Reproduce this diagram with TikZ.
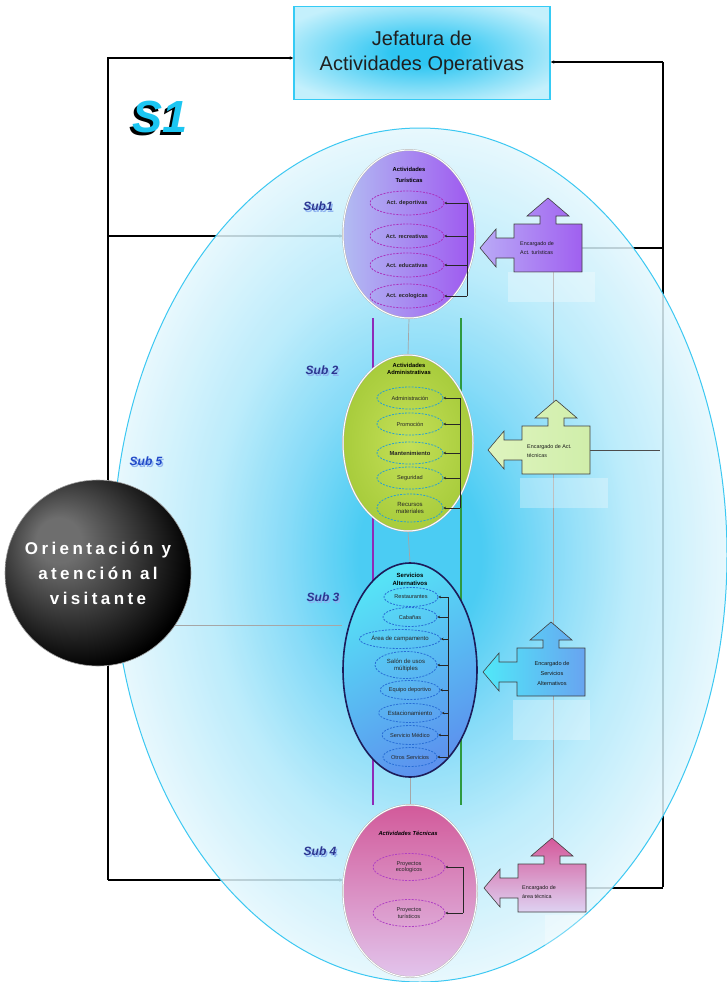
\documentclass[tikz,border=0pt]{standalone}
\usepackage{fontspec}
\setmainfont{Liberation Sans}
\newfontfamily\spacedsans[LetterSpace=20]{Liberation Sans}
\usetikzlibrary{shapes.geometric,arrows.meta}
\pgfdeclarelayer{paper}
\pgfdeclarelayer{wires}
\pgfdeclarelayer{halo}
\pgfdeclarelayer{links}
\pgfsetlayers{paper,wires,halo,links,main}
\definecolor{haloA}{HTML}{2CC4F2}
\definecolor{haloM}{HTML}{74D6F7}
\definecolor{haloB}{HTML}{B0E9FB}
\definecolor{haloC}{HTML}{E4F7FD}
\definecolor{haloEdge}{HTML}{3CC8F2}
\definecolor{boxIn}{HTML}{2EC6F2}
\definecolor{boxOut}{HTML}{C4F0FC}
\definecolor{boxEdge}{HTML}{35CBF5}
\definecolor{orbA}{HTML}{6E6E6E}
\definecolor{orbB}{HTML}{5A5A5A}
\definecolor{linkP}{HTML}{8E2AB8}
\definecolor{linkG}{HTML}{2E9A40}
\definecolor{subBlue}{HTML}{2B3590}
\definecolor{subFive}{HTML}{2048C8}
\definecolor{subShadow}{HTML}{8FB4F0}
\definecolor{sOneCyan}{HTML}{1CC6F2}
\pgfdeclareradialshading{haloshade}{\pgfpoint{0bp}{0bp}}{color(0bp)=(haloA); color(5bp)=(haloA); color(11bp)=(haloM); color(17bp)=(haloB); color(25bp)=(haloC); color(50bp)=(haloC)}
\pgfdeclareradialshading{orbshade}{\pgfpoint{-12bp}{10bp}}{color(0bp)=(orbA); color(6bp)=(orbA); color(30bp)=(black); color(44bp)=(black); color(50bp)=(orbB)}
\pgfdeclareradialshading{boxshade}{\pgfpoint{0bp}{0bp}}{color(0bp)=(boxIn); color(6bp)=(boxIn); color(30bp)=(boxOut); color(50bp)=(boxOut)}
\newcommand\calloutbox[4]{%
  \shade[#4, draw=black!75, line width=0.6pt]
    ({#2-34},{#3-24}) -- ({#2-8},{#3-24}) -- ({#2-8},{#3-32}) -- ({#2-21},{#3-32})
    -- ({#2},{#3-50}) -- ({#2+21},{#3-32}) -- ({#2+8},{#3-32}) -- ({#2+8},{#3-24})
    -- ({#2+34},{#3-24}) -- ({#2+34},{#3+24}) -- ({#2-34},{#3+24}) -- ({#2-34},{#3+10})
    -- ({#2-52},{#3+10}) -- ({#2-52},{#3+19}) -- ({#2-68},{#3}) -- ({#2-52},{#3-19})
    -- ({#2-52},{#3-10}) -- ({#2-34},{#3-10}) -- cycle;
  \coordinate (#1-top) at (#2,{#3-50});
  \coordinate (#1-bot) at (#2,{#3+24});
  \coordinate (#1-right) at ({#2+34},#3);
}
\newcommand\shadowtext[3]{\makebox[0pt][l]{\hspace*{1.5pt}\raisebox{-1.5pt}{\textcolor{#2}{#1}}}\textcolor{#3}{#1}}
\begin{document}
\begin{tikzpicture}[x=1pt,y=-1pt,
  wire/.style={draw=black, line width=1.2pt},
  thickwire/.style={draw=black, line width=2pt},
  link/.style={draw=gray!70, line width=0.7pt},
  tip/.style={-{Stealth[length=3.5pt,width=3.5pt]}},
  tick/.style={draw=black!85, line width=0.6pt, -{Stealth[length=2.6pt,width=2.6pt]}},
  subell/.style={ellipse, draw=gray!60, double=white, double distance=1pt, inner sep=0pt},
  item/.style={ellipse, dashed, dash pattern=on 2pt off 1.3pt, line width=0.8pt, inner sep=0pt, align=center, font=\fontsize{5.6}{6.4}\selectfont, text=black!85},
  title/.style={align=center, font=\fontsize{5.8}{7}\selectfont\bfseries, text=black},
  calltext/.style={align=left, font=\fontsize{5.4}{9}\selectfont, text=black!90, inner sep=0pt},
  sublabel/.style={font=\fontsize{12}{12}\selectfont\bfseries\itshape, inner sep=0pt},
  reflect/.style={fill=white, fill opacity=0.3, draw=none}
]
\useasboundingbox (0,0) rectangle (727,982);
\begin{pgfonlayer}{paper}
  \fill[white] (0,0) rectangle (727,982);
\end{pgfonlayer}

% ---------- top box
\node[draw=boxEdge, line width=1.6pt, shading=boxshade, minimum width=256pt, minimum height=93pt,
      align=center, font=\fontsize{20}{25}\selectfont, text=black!88] (top) at (422,53)
      {Jefatura de\\Actividades Operativas};

% ---------- S1 label (cyan with black shadow)
\node[font=\fontsize{45}{45}\selectfont\bfseries\itshape, inner sep=0pt] (sone) at (160,119)
  {\makebox[0pt][l]{\hspace*{-3pt}\raisebox{-3pt}{\textcolor{black}{S1}}}\textcolor{sOneCyan}{S1}};

% ---------- big halo ellipse
\begin{pgfonlayer}{halo}
  \shade[shading=haloshade, fill opacity=0.85] (420,555) ellipse [x radius=307, y radius=427];
  \draw[haloEdge, line width=1pt] (420,555) ellipse [x radius=307, y radius=427];
\end{pgfonlayer}

% ---------- sub ellipses
\node[subell, left color={rgb,255:red,178;green,188;blue,242}, right color={rgb,255:red,158;green,86;blue,240},
      minimum width=132pt, minimum height=168pt] (sub1) at (409,234) {};
\node[subell, inner color={rgb,255:red,196;green,224;blue,88}, outer color={rgb,255:red,168;green,204;blue,60},
      minimum width=130pt, minimum height=176pt] (sub2) at (408,443) {};
\node[ellipse, draw={rgb,255:red,28;green,28;blue,90}, line width=1.6pt, inner sep=0pt,
      top color={rgb,255:red,86;green,226;blue,246}, bottom color={rgb,255:red,92;green,146;blue,238}, shading angle=30,
      minimum width=134pt, minimum height=214pt] (sub3) at (410,670) {};
\node[subell, top color={rgb,255:red,210;green,90;blue,154}, middle color={rgb,255:red,222;green,182;blue,226},
      bottom color={rgb,255:red,226;green,196;blue,236},
      minimum width=134pt, minimum height=172pt] (sub4) at (410,891) {};

% ---------- sub 1 content
\node[title] (t1) at (409,175) {Actividades\\[4pt]Turísticas};
\tikzset{itemA/.style={item, draw={rgb,255:red,170;green,50;blue,190}, minimum width=74pt, minimum height=24pt, font=\fontsize{5.6}{6.4}\selectfont\bfseries}}
\node[itemA] (a1) at (407,203) {Act. deportivas};
\node[itemA] (a2) at (407,236) {Act. recreativas};
\node[itemA] (a3) at (407,265) {Act. educativas};
\node[itemA] (a4) at (407,296) {Act. ecologicas};
\coordinate (k1) at (467,0);
\draw[draw=black!85, line width=0.6pt] (k1 |- a1.east) -- (k1 |- a4.east);
\foreach \n in {a1,a2,a3,a4} { \draw[tick] (k1 |- \n.east) -- (\n.east); }

% ---------- sub 2 content
\node[title] (t2) at (409,369) {Actividades\\Administrativas};
\tikzset{itemB/.style={item, draw={rgb,255:red,40;green,160;blue,210}, minimum width=66pt, minimum height=22pt}}
\node[itemB] (b1) at (410,398) {Administración};
\node[itemB] (b2) at (410,424) {Promoción};
\node[itemB, font=\fontsize{5.8}{6.4}\selectfont\bfseries] (b3) at (410,453) {Mantenimiento};
\node[itemB] (b4) at (410,478) {Seguridad};
\node[itemB, minimum height=28pt, font=\fontsize{6}{7}\selectfont] (b5) at (410,508) {Recursos\\materiales};
\coordinate (k2) at (460,0);
\draw[draw=black!85, line width=0.6pt] (k2 |- b1.east) -- (k2 |- b5.east);
\foreach \n in {b1,b2,b3,b4,b5} { \draw[tick] (k2 |- \n.east) -- (\n.east); }

% ---------- sub 3 content
\node[title, font=\fontsize{6}{8}\selectfont\bfseries] (t3) at (410,579) {Servicios\\Alternativos};
\tikzset{itemC/.style={item, draw={rgb,255:red,40;green,110;blue,214}, minimum width=54pt, minimum height=19pt, font=\fontsize{5.6}{6.6}\selectfont}}
\node[itemC] (e1) at (411,597) {Restaurantes};
\node[itemC] (e2) at (410,617) {Cabañas};
\node[itemC, minimum width=74pt, font=\fontsize{6}{7}\selectfont] (e3) at (400,639) {Área de campamento};
\node[itemC, minimum width=62pt, minimum height=27pt, font=\fontsize{6}{7}\selectfont] (e4) at (406,665) {Salón de usos\\múltiples};
\node[itemC] (e5) at (410,690) {Equipo deportivo};
\node[itemC, font=\fontsize{6}{7}\selectfont] (e6) at (410,713) {Estacionamiento};
\node[itemC] (e7) at (410,735) {Servicio Médico};
\node[itemC] (e8) at (410,757) {Otros Servicios};
\coordinate (k3) at (448,0);
\draw[draw=black!85, line width=0.6pt] (k3 |- e1.east) -- (k3 |- e8.east);
\foreach \n in {e1,e2,e3,e4,e5,e6,e7,e8} { \draw[tick] (k3 |- \n.east) -- (\n.east); }

% ---------- sub 4 content
\node[title, font=\fontsize{5.8}{7}\selectfont\bfseries\itshape] (t4) at (408,833) {Actividades Técnicas};
\tikzset{itemD/.style={item, draw={rgb,255:red,176;green,64;blue,196}, minimum width=72pt, minimum height=27pt}}
\node[itemD] (d1) at (409,867) {Proyectos\\ecologicos};
\node[itemD] (d2) at (409,913) {Proyectos\\turísticos};
\coordinate (k4) at (463,0);
\draw[draw=black!85, line width=0.6pt] (k4 |- d1.east) -- (k4 |- d2.east);
\foreach \n in {d1,d2} { \draw[tick] (k4 |- \n.east) -- (\n.east); }

% ---------- callouts
\calloutbox{c1}{548}{248}{left color={rgb,255:red,185;green,170;blue,246}, right color={rgb,255:red,160;green,96;blue,240}}
\calloutbox{c2}{556}{450}{left color={rgb,255:red,222;green,244;blue,190}, right color={rgb,255:red,208;green,238;blue,170}}
\calloutbox{c3}{551}{672}{left color={rgb,255:red,80;green,232;blue,248}, right color={rgb,255:red,104;green,164;blue,240}}
\calloutbox{c4}{552}{888}{top color={rgb,255:red,212;green,88;blue,154}, bottom color={rgb,255:red,222;green,210;blue,242}}
\node[calltext, anchor=west] (c1t) at (520,248) {Encargado de\\Act. turísticas};
\node[calltext, anchor=west] (c2t) at (527,451) {Encargado de Act.\\técnicas};
\node[calltext, align=center, font=\fontsize{5.6}{10}\selectfont] (c3t) at (552,673) {Encargado de\\Servicios\\Alternativos};
\node[calltext, anchor=west] (c4t) at (522,892) {Encargado de\\área técnica};

% reflections under callouts
\fill[reflect] (508,272) rectangle (595,302);
\fill[reflect] (520,478) rectangle (608,508);
\fill[reflect] (513,700) rectangle (590,740);
\fill[reflect] (545,915) rectangle (600,960);

% ---------- orb
\node[circle, shading=orbshade, draw=gray!75, line width=0.6pt, minimum size=186pt, inner sep=0pt,
      align=center, text=white, font=\spacedsans\bfseries\fontsize{17}{25}\selectfont] (orb) at (98,573)
      {Orientación y\\atención al\\visitante};

% ---------- sub labels
\node[sublabel] (l1) at (318,207) {\shadowtext{Sub1}{subShadow}{subBlue}};
\node[sublabel] (l2) at (322,371) {\shadowtext{Sub 2}{subShadow}{subBlue}};
\node[sublabel] (l3) at (323,598) {\shadowtext{Sub 3}{subShadow}{subBlue}};
\node[sublabel] (l4) at (320,852) {\shadowtext{Sub 4}{subShadow}{subBlue}};
\node[sublabel] (l5) at (146,462) {\shadowtext{Sub 5}{subShadow}{subFive}};

% ---------- wires under the halo
\begin{pgfonlayer}{wires}
  \coordinate (Lt) at (108,58);
  \coordinate (Lm) at (108,236);
  \coordinate (Lb) at (108,880);
  \coordinate (Rt) at (663,62);
  \coordinate (Rb) at (663,887);
  \draw[wire, tip] (Lb) -- (Lt) -- (Lt -| top.west);
  \draw[wire, tip] (Lm) -- (Lm -| sub1.west);
  \draw[wire, tip] (Lb) -- (Lb -| sub4.west);
  \draw[thickwire] (Rb) -- (Rt);
  \draw[wire, tip] (Rt) -- (Rt -| top.east);
  \draw[wire] (c1-right) -- (c1-right -| Rt);
  \draw[wire] (c4-right) -- (c4-right -| Rt);
\end{pgfonlayer}

% ---------- links over the halo
\begin{pgfonlayer}{links}
  \coordinate (vp) at (373,0);
  \coordinate (vg) at (461,0);
  \coordinate (vx) at (553,0);
  \coordinate (R2) at (660,0);
  \draw[linkP, line width=1.1pt] (vp |- sub1.south) -- (vp |- sub4.north);
  \draw[linkG, line width=1.1pt] (vg |- sub1.south) -- (vg |- sub4.north);
  \draw[link] (sub1.south) -- (sub2.north);
  \draw[link] (sub2.south) -- (sub3.north);
  \draw[link] (sub3.south) -- (sub4.north);
  \draw[link] (orb.-34) -- (orb.-34 -| sub3.west);
  \draw[link] (vx |- c1-bot) -- (vx |- c4-top);
  \draw[draw=black!70, line width=0.8pt] (c2-right) -- (c2-right -| R2);
\end{pgfonlayer}
\end{tikzpicture}
\end{document}
